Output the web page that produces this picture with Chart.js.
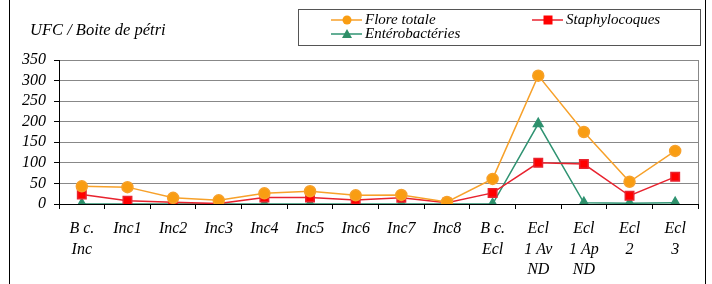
<!DOCTYPE html>
<html>
<head>
<meta charset="utf-8">
<script src="https://cdn.jsdelivr.net/npm/chart.js@4/dist/chart.umd.min.js"></script>
<style>
  html, body { margin: 0; padding: 0; background: #fff; }
  #wrap { width: 712px; height: 284px; position: relative; }
</style>
</head>
<body>
<div id="wrap"><canvas id="graphe" width="712" height="284"></canvas></div>
<script>
// categories (multi-line labels as arrays)
var categories = [['B c.', 'Inc'], 'Inc1', 'Inc2', 'Inc3', 'Inc4', 'Inc5', 'Inc6', 'Inc7', 'Inc8',
    ['B c.', 'Ecl'], ['Ecl', '1 Av', 'ND'], ['Ecl', '1 Ap', 'ND'], ['Ecl', '2'], ['Ecl', '3']];

var floreTotale     = [43, 41, 15, 9, 26, 31, 21, 22, 5, 61, 312, 175, 54, 129];
var staphylocoques  = [23, 8, 4, 1, 16, 16, 10, 15, 3, 27, 100, 97, 20, 66];
var enterobacteries = [0, 0, 0, 0, 0, 0, 0, 0, 0, 0, 195, 3, 2, 3];

var yTicks = [0, 50, 100, 150, 200, 250, 300, 350];

var serif = '"Liberation Serif", "DejaVu Serif", serif';

// frame, title, right border and the legend box
var decor = {
    id: 'decor',
    afterDraw: function (chart) {
        var ctx = chart.ctx;
        var a = chart.chartArea;
        ctx.save();
        // outer frame
        ctx.strokeStyle = '#000';
        ctx.lineWidth = 1;
        ctx.beginPath();
        ctx.moveTo(9.5, 0); ctx.lineTo(9.5, 284);
        ctx.moveTo(705.5, 0); ctx.lineTo(705.5, 284);
        ctx.stroke();
        // plot right border
        ctx.strokeStyle = '#888';
        ctx.beginPath();
        ctx.moveTo(Math.round(a.right) + 0.5, a.top); ctx.lineTo(Math.round(a.right) + 0.5, a.bottom);
        ctx.stroke();

        // y title
        ctx.fillStyle = '#000';
        ctx.font = 'italic 16.5px ' + serif;
        ctx.textBaseline = 'middle';
        ctx.textAlign = 'left';
        ctx.fillText('UFC / Boite de pétri', 30, 31);

        // legend
        ctx.strokeStyle = '#555';
        ctx.strokeRect(298.5, 9.5, 402, 36);
        var items = [
            { i: 0, x: 331, y: 20 },
            { i: 1, x: 532, y: 20 },
            { i: 2, x: 331, y: 34 }
        ];
        ctx.font = 'italic 15px ' + serif;
        items.forEach(function (it) {
            var ds = chart.data.datasets[it.i];
            ctx.strokeStyle = ds.borderColor;
            ctx.lineWidth = 1.5;
            ctx.beginPath();
            ctx.moveTo(it.x, it.y); ctx.lineTo(it.x + 31, it.y);
            ctx.stroke();
            ctx.fillStyle = ds.backgroundColor;
            var cx = it.x + 16;
            ctx.beginPath();
            if (ds.pointStyle === 'circle') {
                ctx.arc(cx, it.y, 4.5, 0, Math.PI * 2);
            } else if (ds.pointStyle === 'rect') {
                ctx.rect(cx - 4.5, it.y - 4.5, 9, 9);
            } else {
                ctx.moveTo(cx, it.y - 5); ctx.lineTo(cx + 5, it.y + 4); ctx.lineTo(cx - 5, it.y + 4);
                ctx.closePath();
            }
            ctx.fill();
            ctx.fillStyle = '#000';
            ctx.fillText(ds.label, it.x + 34, it.y);
        });
        ctx.restore();
    }
};

var config = {
    type: 'line',
    data: {
        labels: categories,
        datasets: [{
            label: 'Flore totale',
            data: floreTotale,
            borderColor: '#f7a12a',
            backgroundColor: '#f99d12',
            pointStyle: 'circle',
            pointRadius: 5.5,
            borderWidth: 1.5
        }, {
            label: 'Staphylocoques',
            data: staphylocoques,
            borderColor: '#e8232f',
            backgroundColor: '#ff0000',
            pointStyle: 'rect',
            pointRadius: 6,
            borderWidth: 1.5
        }, {
            label: 'Entérobactéries',
            data: enterobacteries,
            borderColor: '#2f9372',
            backgroundColor: '#2f8f68',
            pointStyle: 'triangle',
            pointRadius: 5.5,
            borderWidth: 1.5
        }]
    },
    options: {
        responsive: false,
        animation: false,
        layout: { padding: { left: 0, top: 60, right: 14, bottom: 0 } },
        plugins: {
            legend: { display: false },
            tooltip: { enabled: false }
        },
        elements: { point: { borderWidth: 0 }, line: { tension: 0 } },
        scales: {
            x: {
                offset: true,
                afterFit: function (s) { s.height = 80; },
                grid: {
                    offset: true,
                    drawOnChartArea: false,
                    tickLength: 5,
                    color: '#000'
                },
                border: { color: '#000' },
                ticks: {
                    color: '#000',
                    padding: 10,
                    maxRotation: 0,
                    autoSkip: false,
                    font: { family: serif, style: 'italic', size: 16, lineHeight: 1.28 }
                }
            },
            y: {
                min: 0,
                max: 350,
                afterFit: function (s) { s.width = 59; },
                afterBuildTicks: function (s) {
                    s.ticks = yTicks.map(function (v) { return { value: v }; });
                },
                grid: { color: '#888', tickLength: 5, tickColor: '#000' },
                border: { color: '#000' },
                ticks: {
                    color: '#000',
                    padding: 8,
                    autoSkip: false,
                    font: { family: serif, style: 'italic', size: 16 }
                }
            }
        }
    },
    plugins: [decor]
};

var graphe = new Chart(document.getElementById('graphe'), config);
</script>
</body>
</html>
